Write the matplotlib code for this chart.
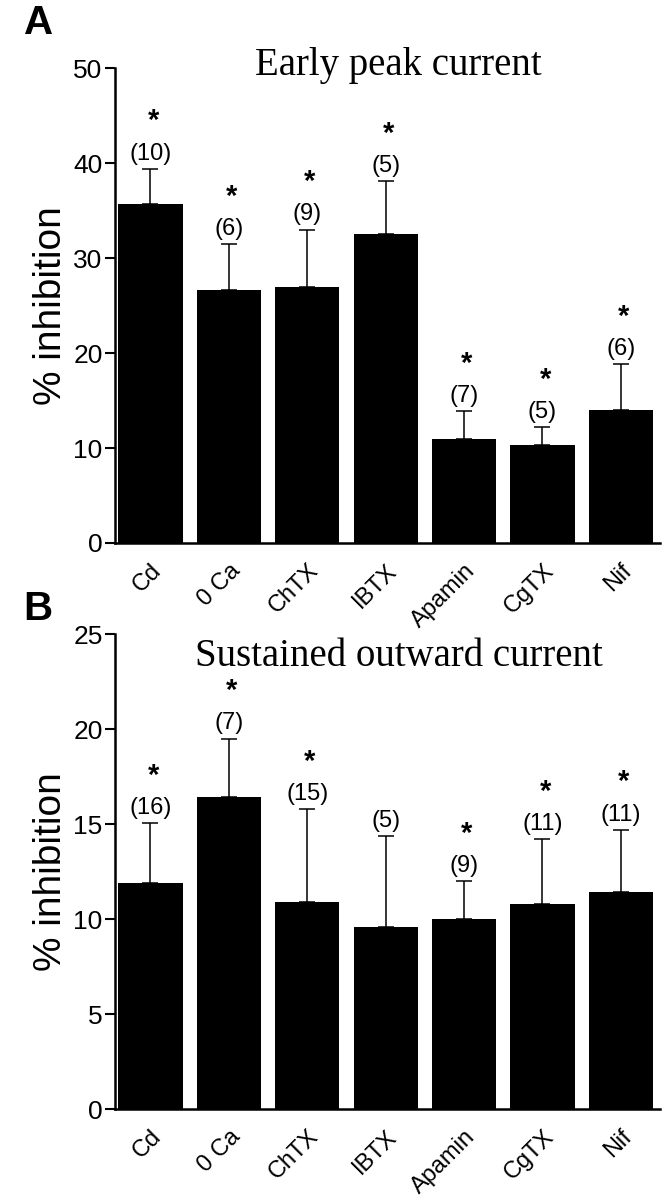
import numpy as np
import matplotlib.pyplot as plt

plt.rcParams['font.family'] = ['Liberation Sans', 'DejaVu Sans']

# Data
drugs = ['Cd', '0 Ca', 'ChTX', 'IBTX', 'Apamin', 'CgTX', 'Nif']

peak_mean = [35.7, 26.6, 26.9, 32.5, 10.9, 10.3, 14.0]
peak_top = [39.4, 31.5, 33.0, 38.1, 13.9, 12.2, 18.8]
peak_n = [10, 6, 9, 5, 7, 5, 6]
peak_sig = [True, True, True, True, True, True, True]

sust_mean = [11.9, 16.4, 10.9, 9.6, 10.0, 10.8, 11.4]
sust_top = [15.05, 19.5, 15.8, 14.35, 12.0, 14.2, 14.7]
sust_n = [16, 7, 15, 5, 9, 11, 11]
sust_sig = [True, True, True, False, True, True, True]

fig = plt.figure(figsize=(6.62, 12), dpi=100)
axA = fig.add_axes([0.174, 0.5475, 0.823, 0.3958])
axB = fig.add_axes([0.174, 0.0758, 0.823, 0.3958])


def panel(ax, mean, top, n, sig, ymax, step, title, title_y):
    x = np.arange(len(drugs))
    mean = np.array(mean)
    err = np.array(top) - mean
    ax.bar(x, mean, width=0.82, color='black')
    ax.errorbar(x, mean, yerr=[np.zeros_like(err), err], fmt='none',
                ecolor='black', elinewidth=1.1, capsize=6, capthick=1.1)
    for xi, t, ni, s in zip(x, top, n, sig):
        ax.annotate(f'({ni})', (xi, t), xytext=(0, 3), textcoords='offset points',
                    ha='center', va='bottom', fontsize=17)
        if s:
            ax.annotate('*', (xi, t), xytext=(2, 24), textcoords='offset points',
                        ha='center', va='bottom', fontsize=21, fontweight='bold')
    ax.set_xlim(-0.45, 6.5)
    ax.set_ylim(0, ymax)
    ax.set_yticks(np.arange(0, ymax + 1, step))
    ax.set_xticks(x)
    ax.set_xticklabels(drugs, rotation=45, ha='right', rotation_mode='anchor',
                       fontsize=17)
    ax.tick_params(axis='x', length=0, pad=12)
    ax.tick_params(axis='y', direction='out', length=7, width=1.5, labelsize=19, pad=2)
    for side in ['top', 'right']:
        ax.spines[side].set_visible(False)
    for side in ['left', 'bottom']:
        ax.spines[side].set_linewidth(1.8)
    ax.set_ylabel('% inhibition', fontsize=28, labelpad=3)
    ax.text(0.52, title_y, title, transform=ax.transAxes, ha='center', va='center',
            fontsize=28, family='Liberation Serif')


panel(axA, peak_mean, peak_top, peak_n, peak_sig, 50, 10, 'Early peak current', 1.006)
panel(axB, sust_mean, sust_top, sust_n, sust_sig, 25, 5, 'Sustained outward current', 0.952)

fig.text(0.059, 0.981, 'A', fontsize=29, fontweight='bold', ha='center', va='center')
fig.text(0.057, 0.4925, 'B', fontsize=29, fontweight='bold', ha='center', va='center')

fig.savefig('out.png', dpi=100)
